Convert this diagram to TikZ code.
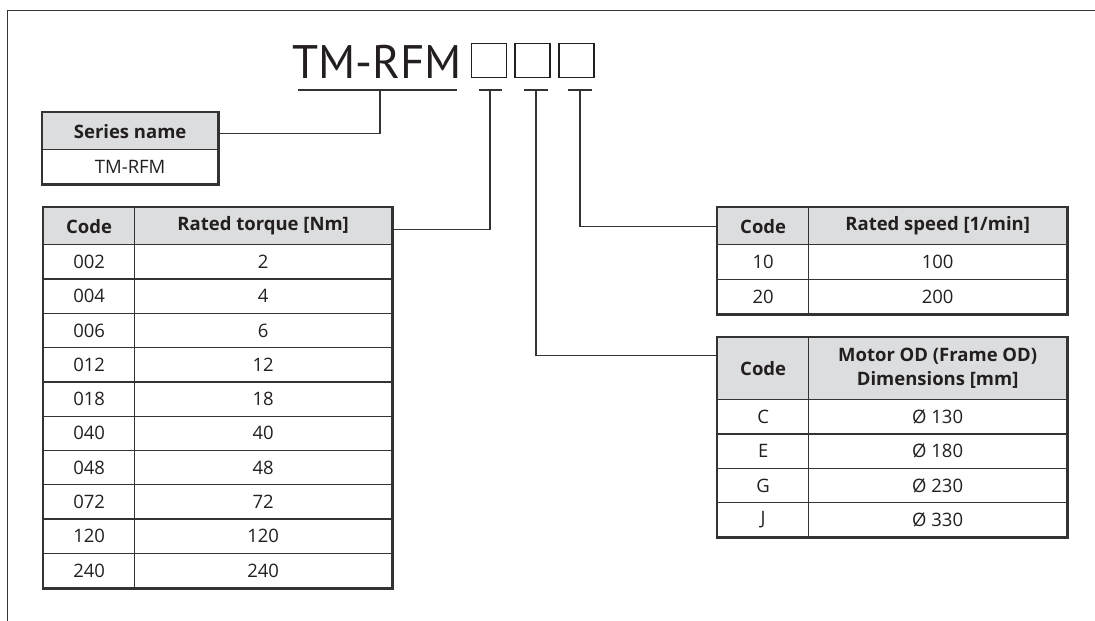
\documentclass[tikz,border=0pt]{standalone}
\usepackage{fontspec}
\setmainfont{PT Sans}
\newfontfamily\tabfont{Open Sans}
\definecolor{ln}{HTML}{333333}
\definecolor{tx}{HTML}{231F20}
\definecolor{hd}{HTML}{DCDDDE}
\begin{document}
\begin{tikzpicture}[x=1pt,y=-1pt,
  cell/.style={draw=ln, line width=1.3pt, inner sep=0pt, anchor=north west, text=tx,
    font=\tabfont\fontsize{18.5}{24}\selectfont},
  head/.style={cell, fill=hd, font=\tabfont\bfseries\fontsize{18.5}{24}\selectfont, align=center},
  outer/.style={draw=ln, line width=2.6pt},
  wire/.style={draw=ln, line width=1.2pt},
  slot/.style={draw=tx, line width=1.3pt, inner sep=0pt, anchor=north west,
    minimum width=35pt, minimum height=34pt},
]
\useasboundingbox (0,0) rectangle (1095,621);
% frame
\draw[ln, line width=1.8pt] (7.5,621) -- (7.5,10.5) -- (1095,10.5);

% title
\node[anchor=base west, inner sep=0pt, text=tx, font=\fontsize{47}{50}\selectfont] (title) at (292,78) {TM-RFM};
\node[slot] (b1) at (470.7,43) {};
\node[slot] (b2) at (514.3,43) {};
\node[slot] (b3) at (558.3,43) {};

% underline bars
\coordinate (ul) at (298,90);
\coordinate (ur) at (457,90);
\coordinate (u0) at (380,90);
\coordinate (b1l) at (478.7,90);
\coordinate (b1r) at (502.3,90);
\coordinate (u1) at (490,90);
\coordinate (b2l) at (524,90);
\coordinate (b2r) at (548,90);
\coordinate (u2) at (536,90);
\coordinate (b3l) at (568,90);
\coordinate (b3r) at (592,90);
\coordinate (u3) at (580,90);
\draw[wire] (ul) -- (ur);
\draw[wire] (b1l) -- (b1r);
\draw[wire] (b2l) -- (b2r);
\draw[wire] (b3l) -- (b3r);

% series name box
\node[head, minimum width=175pt, minimum height=37pt] (snh) at (42,112) {Series name};
\node[cell, minimum width=175pt, minimum height=34pt] (snv) at (42,149) {TM-RFM};
\draw[outer] (snh.north west) rectangle (snv.south east);

% torque table
\node[head, minimum width=91pt, minimum height=37pt] (tqh1) at (43,207) {Code};
\node[head, minimum width=257pt, minimum height=37pt] (tqh2) at (134,207) {Rated torque [Nm]};
\foreach \c/\v [count=\i] in {002/2,004/4,006/6,012/12,018/18,040/40,048/48,072/72,120/120,240/240}{
  \node[cell, minimum width=91pt, minimum height=34.3pt] (tqc\i) at (43,{244+(\i-1)*34.3}) {\c};
  \node[cell, minimum width=257pt, minimum height=34.3pt] (tqv\i) at (134,{244+(\i-1)*34.3}) {\v};
}
\draw[outer] (tqh1.north west) rectangle (tqv10.south east);

% speed table
\node[head, minimum width=91pt, minimum height=37pt] (sph1) at (717,207) {Code};
\node[head, minimum width=258pt, minimum height=37pt] (sph2) at (808,207) {Rated speed [1/min]};
\foreach \c/\v [count=\i] in {10/100,20/200}{
  \node[cell, minimum width=91pt, minimum height=34.5pt] (spc\i) at (717,{244+(\i-1)*34.5}) {\c};
  \node[cell, minimum width=258pt, minimum height=34.5pt] (spv\i) at (808,{244+(\i-1)*34.5}) {\v};
}
\draw[outer] (sph1.north west) rectangle (spv2.south east);

% motor OD table
\node[head, minimum width=91pt, minimum height=62pt] (mdh1) at (717,337) {Code};
\node[head, minimum width=258pt, minimum height=62pt] (mdh2) at (808,337) {Motor OD (Frame OD)\\Dimensions [mm]};
\foreach \c/\v [count=\i] in {C/130,E/180,G/230,J/330}{
  \node[cell, minimum width=91pt, minimum height=34.3pt] (mdc\i) at (717,{399+(\i-1)*34.3}) {\c};
  \node[cell, minimum width=258pt, minimum height=34.3pt] (mdv\i) at (808,{399+(\i-1)*34.3}) {Ø \v};
}
\draw[outer] (mdh1.north west) rectangle (mdv4.south east);

% connectors
\draw[wire] ([yshift=-2.5pt]snh.east) -| (u0);
\draw[wire] ([yshift=-3pt]tqh2.east) -| (u1);
\draw[wire] ([yshift=13pt]mdh1.west) -| (u2);
\draw[wire] (sph1.west) -| (u3);
\end{tikzpicture}
\end{document}
